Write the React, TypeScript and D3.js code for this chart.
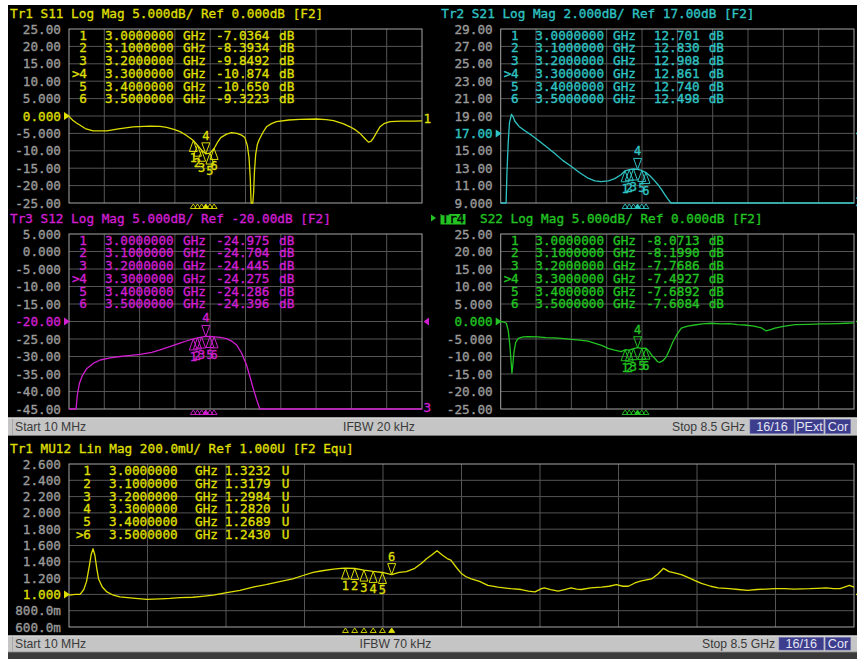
import React from "react";
import * as d3 from "d3";

const MONO = "'DejaVu Sans Mono', 'Liberation Mono', monospace";
const SANS = "'Liberation Sans', Arial, sans-serif";

// sweep, GHz
const sweepStart = 0.01;
const sweepStop = 8.5;

const markerFreqs = [3.0, 3.1, 3.2, 3.3, 3.4, 3.5];
const markerFreqLabels = ["3.0000000", "3.1000000", "3.2000000", "3.3000000", "3.4000000", "3.5000000"];

// axis ticks
const dbTicks5 = [25, 20, 15, 10, 5, 0, -5, -10, -15, -20, -25];
const dbTickLabels5 = ["25.00", "20.00", "15.00", "10.00", "5.000", "0.000", "-5.000", "-10.00", "-15.00", "-20.00", "-25.00"];
const s21Ticks = [29, 27, 25, 23, 21, 19, 17, 15, 13, 11, 9];
const s21TickLabels = ["29.00", "27.00", "25.00", "23.00", "21.00", "19.00", "17.00", "15.00", "13.00", "11.00", "9.000"];
const s12Ticks = [5, 0, -5, -10, -15, -20, -25, -30, -35, -40, -45];
const s12TickLabels = ["5.000", "0.000", "-5.000", "-10.00", "-15.00", "-20.00", "-25.00", "-30.00", "-35.00", "-40.00", "-45.00"];
const mu12Ticks = [2.6, 2.4, 2.2, 2.0, 1.8, 1.6, 1.4, 1.2, 1.0, 0.8, 0.6];
const mu12TickLabels = ["2.600", "2.400", "2.200", "2.000", "1.800", "1.600", "1.400", "1.200", "1.000", "800.0m", "600.0m"];

// marker readouts
const s11Markers = [-7.0364, -8.3934, -9.8492, -10.874, -10.65, -9.3223];
const s21Markers = [12.701, 12.83, 12.908, 12.861, 12.74, 12.498];
const s12Markers = [-24.975, -24.704, -24.445, -24.275, -24.286, -24.396];
const s22Markers = [-8.0713, -8.199, -7.7686, -7.4927, -7.6892, -7.6084];
const mu12Markers = [1.3232, 1.3179, 1.2984, 1.282, 1.2689, 1.243];

// traces: [GHz, value]
const s11Trace: [number, number][] = [
  [0.01, -0.1], [0.1, -1.2], [0.19, -2.0], [0.27, -2.6], [0.4, -3.6], [0.59, -4.3], [0.92, -4.3],
  [1.2, -3.7], [1.55, -3.1], [1.96, -2.9], [2.2, -3.0], [2.36, -3.25], [2.55, -3.9], [2.68, -4.5],
  [2.8, -5.3], [2.92, -6.3], [3.0, -7.0364], [3.1, -8.3934], [3.2, -9.8492], [3.3, -10.874],
  [3.4, -10.65], [3.5, -9.3223], [3.58, -7.6], [3.66, -6.2], [3.8, -5.2], [3.92, -4.8], [4.05, -5.0],
  [4.16, -5.5], [4.24, -6.2], [4.3, -8.5], [4.34, -12], [4.37, -18], [4.39, -26], [4.43, -27],
  [4.45, -22], [4.47, -16], [4.5, -11], [4.54, -8.2], [4.58, -6.9], [4.68, -4.6], [4.76, -3.1],
  [4.88, -2.2], [5.0, -1.6], [5.3, -1.15], [5.56, -0.95], [5.96, -0.86], [6.2, -1.05], [6.37, -1.35],
  [6.6, -2.2], [6.77, -3.1], [6.9, -4.0], [7.01, -5.0], [7.12, -6.4], [7.21, -7.5], [7.27, -7.3],
  [7.33, -6.4], [7.41, -4.7], [7.49, -3.1], [7.6, -2.1], [7.73, -1.6], [8.0, -1.45], [8.3, -1.45],
  [8.5, -1.4],
];

const s21Trace: [number, number][] = [
  [0.01, 9.0], [0.14, 9.0], [0.16, 12.5], [0.19, 15.9], [0.22, 18.2], [0.27, 19.2], [0.31, 18.9],
  [0.35, 18.4], [0.45, 17.8], [0.59, 17.3], [0.75, 16.8], [0.91, 16.2], [1.1, 15.5], [1.31, 14.7],
  [1.5, 13.9], [1.71, 13.2], [1.9, 12.5], [2.11, 11.85], [2.27, 11.55], [2.43, 11.45], [2.6, 11.55],
  [2.75, 11.8], [2.9, 12.25], [3.0, 12.701], [3.1, 12.83], [3.2, 12.908], [3.3, 12.861], [3.4, 12.74],
  [3.5, 12.498], [3.6, 12.1], [3.7, 11.6], [3.79, 11.1], [3.88, 10.5], [3.95, 10.0], [4.02, 9.5],
  [4.1, 9.0], [8.5, 9.0],
];

const s12Trace: [number, number][] = [
  [0.01, -45], [0.18, -45], [0.21, -41], [0.26, -37.7], [0.33, -35.5], [0.44, -33.4], [0.6, -31.9],
  [0.76, -31.0], [1.0, -30.4], [1.24, -30.0], [1.5, -29.7], [1.72, -29.4], [2.0, -28.8], [2.2, -28.1],
  [2.45, -27.1], [2.68, -26.2], [2.85, -25.5], [3.0, -24.975], [3.1, -24.704], [3.2, -24.445],
  [3.3, -24.275], [3.4, -24.286], [3.5, -24.396], [3.65, -24.55], [3.8, -24.9], [3.92, -25.6],
  [4.04, -26.7], [4.16, -29.0], [4.28, -32.4], [4.36, -35.7], [4.44, -39.1], [4.52, -42.2],
  [4.6, -45], [8.5, -45],
];

const s22Trace: [number, number][] = [
  [0.01, 0.0], [0.1, -0.2], [0.145, -0.5], [0.19, -2.5], [0.23, -6.7], [0.26, -11.5], [0.28, -14.8],
  [0.3, -12.5], [0.33, -8.6], [0.37, -6.0], [0.43, -4.8], [0.55, -4.4], [0.67, -4.3], [0.9, -4.4],
  [1.1, -4.6], [1.3, -4.7], [1.47, -4.8], [1.7, -5.1], [1.9, -5.3], [2.11, -5.6], [2.3, -6.3],
  [2.45, -6.9], [2.59, -7.7], [2.75, -8.2], [2.91, -8.6], [3.0, -8.0713], [3.1, -8.199], [3.2, -7.7686],
  [3.3, -7.4927], [3.4, -7.6892], [3.5, -7.6084], [3.58, -8.6], [3.65, -9.8], [3.71, -10.5],
  [3.78, -11.5], [3.83, -11.7], [3.91, -11.2], [3.99, -10.1], [4.07, -8.0], [4.15, -5.8], [4.25, -3.6],
  [4.35, -1.9], [4.5, -1.3], [4.67, -1.0], [4.85, -0.7], [5.07, -0.5], [5.3, -0.7], [5.5, -0.6],
  [5.7, -0.9], [5.87, -1.0], [6.1, -1.3], [6.27, -1.8], [6.39, -2.7], [6.5, -2.3], [6.6, -1.9],
  [6.8, -1.4], [7.08, -0.9], [7.4, -0.8], [7.7, -0.7], [7.88, -0.7], [8.1, -0.6], [8.3, -0.5], [8.5, -0.4],
];

const mu12Trace: [number, number][] = [
  [0.01, 0.99], [0.08, 1.0], [0.13, 1.0], [0.17, 1.06], [0.2, 1.16], [0.23, 1.35], [0.25, 1.49],
  [0.27, 1.56], [0.29, 1.48], [0.31, 1.32], [0.33, 1.19], [0.37, 1.09], [0.42, 1.03], [0.49, 0.99],
  [0.56, 0.97], [0.7, 0.955], [0.85, 0.94], [1.0, 0.945], [1.1, 0.95], [1.21, 0.96], [1.35, 0.965],
  [1.45, 0.975], [1.57, 0.99], [1.7, 1.02], [1.86, 1.05], [2.0, 1.09], [2.14, 1.12], [2.3, 1.16],
  [2.43, 1.19], [2.55, 1.235], [2.65, 1.27], [2.75, 1.29], [2.87, 1.31], [2.95, 1.32], [3.0, 1.3232],
  [3.1, 1.3179], [3.2, 1.2984], [3.3, 1.282], [3.4, 1.2689], [3.5, 1.243], [3.58, 1.27], [3.66, 1.28],
  [3.75, 1.32], [3.82, 1.38], [3.88, 1.44], [3.94, 1.49], [3.99, 1.535], [4.05, 1.48], [4.1, 1.44],
  [4.14, 1.42], [4.2, 1.33], [4.25, 1.26], [4.3, 1.22], [4.36, 1.19], [4.45, 1.16], [4.54, 1.11],
  [4.65, 1.09], [4.79, 1.07], [4.9, 1.06], [4.98, 1.04], [5.05, 1.03], [5.12, 1.07], [5.15, 1.08],
  [5.22, 1.06], [5.3, 1.04], [5.37, 1.06], [5.44, 1.08], [5.5, 1.065], [5.55, 1.06], [5.65, 1.08],
  [5.77, 1.09], [5.85, 1.1], [5.93, 1.12], [6.0, 1.1], [6.06, 1.1], [6.13, 1.14], [6.2, 1.165],
  [6.31, 1.19], [6.38, 1.25], [6.44, 1.32], [6.5, 1.28], [6.57, 1.26], [6.64, 1.24], [6.71, 1.205],
  [6.78, 1.17], [6.85, 1.135], [6.95, 1.1], [7.03, 1.08], [7.15, 1.07], [7.25, 1.06], [7.35, 1.05],
  [7.45, 1.06], [7.55, 1.065], [7.64, 1.07], [7.75, 1.07], [7.85, 1.065], [8.02, 1.07], [8.1, 1.075],
  [8.2, 1.08], [8.28, 1.07], [8.35, 1.07], [8.45, 1.11], [8.5, 1.09],
];

const YELLOW = "#dede00";
const CYAN = "#2fc3c3";
const MAGENTA = "#d01ed0";
const GREEN = "#22c322";
const GRID = "#555555";
const FRAME = "#a6a6a6";
const TICK = "#9a9a9a";

// slightly heavier glyphs for the instrument font
const heavy = (color: string) => ({ fill: color, stroke: color, strokeWidth: 0.35 });

type PanelCfg = {
  id: string;
  left: number; right: number; top: number; bottom: number;
  min: number; max: number; ref: number;
  ticks: number[]; tickLabels: string[];
  color: string;
  trace: [number, number][];
  markers: number[]; active: number; unit: string;
  titleX: number; titleY: number; title: string; trName?: string;
  table: { num: number; freq: number; ghz: number; valEnd: number; unitX: number; row0: number; rowStep: number };
  rightMark: { kind: "tri" | "text"; text?: string; y?: number };
  bottomText?: string;
};

const fmtVal = (v: number) => v.toPrecision(5);

function Panel({ c }: { c: PanelCfg }) {
  const x = d3.scaleLinear().domain([sweepStart, sweepStop]).range([c.left, c.right]);
  const y = d3.scaleLinear().domain([c.min, c.max]).range([c.bottom, c.top]);
  const clamp = (v: number) => Math.max(c.min, Math.min(c.max, v));
  const line = d3.line<[number, number]>().x((d) => x(d[0])).y((d) => y(clamp(d[1])));
  const span = sweepStop - sweepStart;
  const xGrid = d3.range(11).map((i) => x(sweepStart + (i * span) / 10));
  const yRef = y(c.ref);
  const t = c.table;
  return (
    <g>
      {/* title */}
      {c.trName ? (
        <g>
          <path d={`M${c.titleX - 10},${c.titleY - 4.5} l5,3.5 l-5,3.5 z`} fill={c.color} />
          <rect x={c.titleX - 0.5} y={c.titleY - 5} width={25} height={10.5} fill={c.color} />
          <text x={c.titleX + 0.5} y={c.titleY + 4.3} fontFamily={MONO} fontSize={12.7} {...heavy("#000")}>{c.trName}</text>
          <text x={c.titleX + 39} y={c.titleY + 4.3} fontFamily={MONO} fontSize={12.7} {...heavy(c.color)}>{c.title}</text>
        </g>
      ) : (
        <text x={c.titleX} y={c.titleY + 4.3} fontFamily={MONO} fontSize={12.7} {...heavy(c.color)}>{c.title}</text>
      )}
      {/* grid */}
      {xGrid.slice(1, -1).map((gx, i) => (
        <line key={"vx" + i} x1={gx} x2={gx} y1={c.top} y2={c.bottom} stroke={GRID} strokeWidth={1} />
      ))}
      {c.ticks.slice(1, -1).map((tv, i) => (
        <line key={"hy" + i} x1={c.left} x2={c.right} y1={y(tv)} y2={y(tv)} stroke={GRID} strokeWidth={1} />
      ))}
      <rect x={c.left} y={c.top} width={c.right - c.left} height={c.bottom - c.top} fill="none" stroke={FRAME} strokeWidth={1} />
      {/* y tick labels */}
      {c.ticks.map((tv, i) => (
        <text key={"tl" + i} x={c.left - 8} y={y(tv) + 4.5} textAnchor="end" fontFamily={MONO} fontSize={12.7}
          {...heavy(tv === c.ref ? c.color : TICK)}>{c.tickLabels[i]}</text>
      ))}
      {/* reference pointers */}
      <path d={`M${c.left - 5},${yRef - 4} L${c.left + 1},${yRef} L${c.left - 5},${yRef + 4} Z`} fill={c.color} />
      {c.rightMark.kind === "tri" ? (
        <path d={`M${c.right + 7},${yRef - 4} L${c.right + 1.5},${yRef} L${c.right + 7},${yRef + 4} Z`} fill={c.color} />
      ) : (
        <text x={c.right + 1.5} y={(c.rightMark.y ?? yRef) + 4.5} fontFamily={MONO} fontSize={12.7} {...heavy(c.color)}>{c.rightMark.text}</text>
      )}
      {c.bottomText && (
        <text x={c.right + 1.5} y={c.bottom + 3} fontFamily={MONO} fontSize={12.7} {...heavy(c.color)}>{c.bottomText}</text>
      )}
      {/* marker table */}
      {c.markers.map((mv, i) => {
        const ry = c.top + t.row0 + i * t.rowStep + 4.5;
        return (
          <g key={"row" + i} fontFamily={MONO} fontSize={12.7} {...heavy(c.color)}>
            {i === c.active && <text x={c.left + t.num - 11} y={ry}>&gt;</text>}
            <text x={c.left + t.num} y={ry} textAnchor="middle">{i + 1}</text>
            <text x={c.left + t.freq} y={ry}>{markerFreqLabels[i]}</text>
            <text x={c.left + t.ghz} y={ry}>GHz</text>
            <text x={c.left + t.valEnd} y={ry} textAnchor="end">{fmtVal(mv)}</text>
            <text x={c.left + t.unitX} y={ry}>{c.unit}</text>
          </g>
        );
      })}
      {/* trace */}
      <path d={line(c.trace) ?? ""} fill="none" stroke={c.color} strokeWidth={1.3} strokeLinejoin="round" />
      {/* markers on trace */}
      {c.markers.map((mv, i) => {
        const mx = x(markerFreqs[i]);
        const my = y(clamp(mv));
        if (i === c.active) {
          return (
            <g key={"mk" + i}>
              <path d={`M${mx},${my} L${mx - 4},${my - 11} L${mx + 4},${my - 11} Z`} fill="none" stroke={c.color} strokeWidth={1} />
              <text x={mx} y={my - 14} textAnchor="middle" fontFamily={MONO} fontSize={12} {...heavy(c.color)}>{i + 1}</text>
            </g>
          );
        }
        return (
          <g key={"mk" + i}>
            <path d={`M${mx},${my} L${mx - 4},${my + 11} L${mx + 4},${my + 11} Z`} fill="none" stroke={c.color} strokeWidth={1} />
            <text x={mx} y={my + 22} textAnchor="middle" fontFamily={MONO} fontSize={12} {...heavy(c.color)}>{i + 1}</text>
          </g>
        );
      })}
      {/* marker positions along the bottom edge */}
      {c.markers.map((_, i) => {
        const mx = x(markerFreqs[i]);
        const by = c.bottom + 1;
        return (
          <path key={"bm" + i} d={`M${mx},${by} L${mx - 3},${by + 4.5} L${mx + 3},${by + 4.5} Z`}
            fill={i === c.active ? c.color : "none"} stroke={c.color} strokeWidth={0.9} />
        );
      })}
    </g>
  );
}

const topTable = { num: 14, freq: 36, ghz: 114, valEnd: 200.5, unitX: 210, row0: 6.2, rowStep: 12.75 };
const rightTable = { num: 14, freq: 34.6, ghz: 112.3, valEnd: 199, unitX: 208, row0: 6.2, rowStep: 12.75 };
const bottomTable = { num: 18, freq: 40, ghz: 126, valEnd: 201.7, unitX: 212.7, row0: 6.7, rowStep: 12.7 };

const panels: PanelCfg[] = [
  {
    id: "s11", left: 69, right: 422, top: 29, bottom: 203, min: -25, max: 25, ref: 0,
    ticks: dbTicks5, tickLabels: dbTickLabels5, color: YELLOW, trace: s11Trace, markers: s11Markers,
    active: 3, unit: "dB", titleX: 10, titleY: 14, title: "Tr1 S11 Log Mag 5.000dB/ Ref 0.000dB [F2]",
    table: topTable, rightMark: { kind: "text", text: "1", y: 118 },
  },
  {
    id: "s21", left: 500.7, right: 854, top: 29, bottom: 203, min: 9, max: 29, ref: 17,
    ticks: s21Ticks, tickLabels: s21TickLabels, color: CYAN, trace: s21Trace, markers: s21Markers,
    active: 3, unit: "dB", titleX: 441.3, titleY: 14, title: "Tr2 S21 Log Mag 2.000dB/ Ref 17.00dB [F2]",
    table: rightTable, rightMark: { kind: "tri" }, bottomText: "2",
  },
  {
    id: "s12", left: 69, right: 422, top: 234, bottom: 409, min: -45, max: 5, ref: -20,
    ticks: s12Ticks, tickLabels: s12TickLabels, color: MAGENTA, trace: s12Trace, markers: s12Markers,
    active: 3, unit: "dB", titleX: 10, titleY: 219, title: "Tr3 S12 Log Mag 5.000dB/ Ref -20.00dB [F2]",
    table: topTable, rightMark: { kind: "tri" }, bottomText: "3",
  },
  {
    id: "s22", left: 500.7, right: 854, top: 234, bottom: 409, min: -25, max: 25, ref: 0,
    ticks: dbTicks5, tickLabels: dbTickLabels5, color: GREEN, trace: s22Trace, markers: s22Markers,
    active: 3, unit: "dB", titleX: 441, titleY: 219, trName: "Tr4", title: "S22 Log Mag 5.000dB/ Ref 0.000dB [F2]",
    table: rightTable, rightMark: { kind: "tri" },
  },
  {
    id: "mu12", left: 69, right: 854, top: 464, bottom: 627, min: 0.6, max: 2.6, ref: 1.0,
    ticks: mu12Ticks, tickLabels: mu12TickLabels, color: YELLOW, trace: mu12Trace, markers: mu12Markers,
    active: 5, unit: "U", titleX: 10, titleY: 449, title: "Tr1 MU12 Lin Mag 200.0mU/ Ref 1.000U [F2 Equ]",
    table: bottomTable, rightMark: { kind: "tri" },
  },
];

function StatusBar({ y0, y1, ifbw, ifbwX, stopX, boxes }: { y0: number; y1: number; ifbw: string; ifbwX: number; stopX: number; boxes: { label: string; x: number; w: number }[] }) {
  const cy = (y0 + y1) / 2;
  return (
    <g>
      <rect x={8} y={y0} width={849} height={y1 - y0} fill="#c5c5c5" />
      <line x1={8} x2={857} y1={y0 + 0.5} y2={y0 + 0.5} stroke="#e2e2e2" />
      <line x1={8} x2={857} y1={y1 + 0.5} y2={y1 + 0.5} stroke="#7a7a7a" />
      <line x1={12.5} x2={12.5} y1={y0 + 1} y2={y1} stroke="#a8a8a8" />
      <text x={15} y={cy + 4.3} fontFamily={SANS} fontSize={12.2} fill="#3a3a3a">Start 10 MHz</text>
      <text x={ifbwX} y={cy + 4.3} fontFamily={SANS} fontSize={12.2} fill="#3a3a3a">{ifbw}</text>
      <text x={stopX} y={cy + 4.3} fontFamily={SANS} fontSize={12.2} fill="#3a3a3a">Stop 8.5 GHz</text>
      {boxes.map((b) => (
        <g key={b.label}>
          <rect x={b.x} y={y0 + 2} width={b.w} height={y1 - y0 - 3.5} fill="#3d3d8e" stroke="#6a6ab0" strokeWidth={0.6} />
          <text x={b.x + b.w / 2} y={cy + 4.6} textAnchor="middle" fontFamily={SANS} fontSize={12.6} fill="#e6e6f2">{b.label}</text>
        </g>
      ))}
    </g>
  );
}

export default function App() {
  return (
    <svg width={857} height={659} viewBox="0 0 857 659" style={{ position: "absolute", left: 0, top: 0, display: "block" }}>
      <rect x={0} y={0} width={857} height={659} fill="#ffffff" />
      <rect x={8} y={5} width={849} height={413} fill="#000" />
      <rect x={8} y={436} width={849} height={200} fill="#000" />
      <rect x={8} y={652} width={849} height={7} fill="#3a3a3a" />
      {panels.map((p) => (
        <Panel key={p.id} c={p} />
      ))}
      <StatusBar y0={417.5} y1={435} ifbw="IFBW 20 kHz" ifbwX={343} stopX={672}
        boxes={[{ label: "16/16", x: 750, w: 44 }, { label: "PExt", x: 795.5, w: 28 }, { label: "Cor", x: 825.5, w: 25 }]} />
      <StatusBar y0={635.5} y1={651.5} ifbw="IFBW 70 kHz" ifbwX={359.5} stopX={702}
        boxes={[{ label: "16/16", x: 779, w: 44.5 }, { label: "Cor", x: 825.5, w: 25 }]} />
    </svg>
  );
}
